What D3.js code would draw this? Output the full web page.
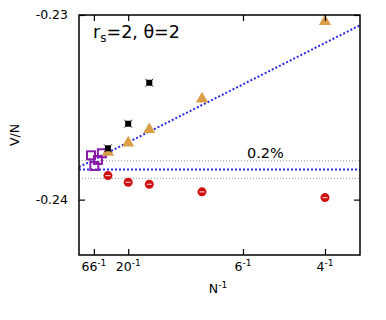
<!DOCTYPE html>
<html>
<head>
<meta charset="utf-8">
<script src="https://cdn.jsdelivr.net/npm/d3@7"></script>
<style>
  html, body { margin: 0; padding: 0; background: #fff; }
  svg { display: block; font-family: "DejaVu Sans", sans-serif; }
</style>
</head>
<body>
<svg id="chart" width="386" height="320"></svg>
<script>
// ---- data ----
const xTickN = [66, 20, 6, 4];
const yTicks = [-0.23, -0.24];

const redN = [34, 20, 14, 8, 4];
const redV = [-0.2387, -0.23906, -0.23917, -0.23958, -0.23989];

const blackN = [34, 20, 14];
const blackV = [-0.23722, -0.23589, -0.23367];

const orangeN = [34, 20, 14, 8, 4];
const orangeV = [-0.23749, -0.23698, -0.23626, -0.2346, -0.2304];

const purpleN = [82, 64, 52, 43];
const purpleV = [-0.2376, -0.23818, -0.23785, -0.23749];

const fitIntercept = -0.23824;
const fitSlope = 0.0269;
const extrapolated = -0.23837;
const band = 0.002;

// ---- layout ----
const svg = d3.select("#chart");
const m = { left: 79, right: 360, top: 15, bottom: 255 };
const x = d3.scaleLinear().domain([0, 0.2856]).range([m.left, m.right]);
const y = d3.scaleLinear().domain([-0.243, -0.23]).range([m.bottom, m.top]);

svg.append("clipPath").attr("id", "clip")
  .append("rect").attr("x", m.left).attr("y", m.top)
  .attr("width", m.right - m.left).attr("height", m.bottom - m.top);

const plot = svg.append("g").attr("clip-path", "url(#clip)");

// grey band lines
[extrapolated * (1 - band), extrapolated * (1 + band)].forEach(v => {
  plot.append("line")
    .attr("x1", m.left).attr("x2", m.right)
    .attr("y1", y(v)).attr("y2", y(v))
    .attr("stroke", "#999").attr("stroke-width", 1)
    .attr("stroke-dasharray", "1,2");
});
// horizontal blue line
plot.append("line")
  .attr("x1", m.left).attr("x2", m.right)
  .attr("y1", y(extrapolated)).attr("y2", y(extrapolated))
  .attr("stroke", "#2a2ae6").attr("stroke-width", 2)
  .attr("stroke-dasharray", "2,2");
// fit line
const xd = x.domain();
plot.append("line")
  .attr("x1", x(xd[0])).attr("x2", x(xd[1]))
  .attr("y1", y(fitIntercept + fitSlope * xd[0]))
  .attr("y2", y(fitIntercept + fitSlope * xd[1]))
  .attr("stroke", "#2a2ae6").attr("stroke-width", 2)
  .attr("stroke-dasharray", "2,2");

// purple open squares
purpleN.forEach((n, i) => {
  plot.append("rect")
    .attr("x", x(1 / n) - 4).attr("y", y(purpleV[i]) - 4)
    .attr("width", 8).attr("height", 8)
    .attr("fill", "none").attr("stroke", "#8a1aa8").attr("stroke-width", 2);
});

// orange triangles
const tri = d3.symbol().type(d3.symbolTriangle).size(65);
orangeN.forEach((n, i) => {
  plot.append("path").attr("d", tri)
    .attr("transform", `translate(${x(1 / n)},${y(orangeV[i]) - 1})`)
    .attr("fill", "#d9a048");
});

// black markers
blackN.forEach((n, i) => {
  const cx = x(1 / n), cy = y(blackV[i]);
  const g = plot.append("g").attr("transform", `translate(${cx},${cy})`);
  g.append("rect").attr("x", -3).attr("y", -3).attr("width", 6).attr("height", 6).attr("fill", "#000");
  g.append("path").attr("d", "M-4,-4L4,4M-4,4L4,-4").attr("stroke", "#000").attr("stroke-width", 0.8);
});

// red circles
redN.forEach((n, i) => {
  const cx = x(1 / n), cy = y(redV[i]);
  plot.append("circle").attr("cx", cx).attr("cy", cy).attr("r", 4.5).attr("fill", "#d01010");
  plot.append("line").attr("x1", cx - 2.5).attr("x2", cx + 2.5).attr("y1", cy).attr("y2", cy)
    .attr("stroke", "#f4c0c0").attr("stroke-width", 1.2);
});

// frame
svg.append("rect")
  .attr("x", m.left).attr("y", m.top)
  .attr("width", m.right - m.left).attr("height", m.bottom - m.top)
  .attr("fill", "none").attr("stroke", "#000").attr("stroke-width", 1.5);

// axes with inner ticks
const tl = 6;
const xAxisB = d3.axisBottom(x).tickValues(xTickN.map(n => 1 / n)).tickSizeInner(-tl).tickSizeOuter(0).tickFormat("");
const xAxisT = d3.axisTop(x).tickValues(xTickN.map(n => 1 / n)).tickSizeInner(-tl).tickSizeOuter(0).tickFormat("");
const yAxisL = d3.axisLeft(y).tickValues(yTicks).tickSizeInner(-tl).tickSizeOuter(0).tickFormat("");
const yAxisR = d3.axisRight(y).tickValues(yTicks).tickSizeInner(-tl).tickSizeOuter(0).tickFormat("");
[
  [xAxisB, `translate(0,${m.bottom})`],
  [xAxisT, `translate(0,${m.top})`],
  [yAxisL, `translate(${m.left},0)`],
  [yAxisR, `translate(${m.right},0)`]
].forEach(([ax, tr]) => {
  const g = svg.append("g").attr("transform", tr).call(ax);
  g.select(".domain").remove();
  g.selectAll("line").attr("stroke", "#000").attr("stroke-width", 1.2);
});

// y tick labels
yTicks.forEach(v => {
  svg.append("text").attr("x", 68).attr("y", y(v)).attr("dy", "0.35em")
    .attr("text-anchor", "end").attr("font-size", 12.5).attr("fill", "#000")
    .text(d3.format(".2f")(v).replace("−", "-"));
});

// x tick labels
xTickN.forEach(n => {
  const t = svg.append("text").attr("x", x(1 / n)).attr("y", 271)
    .attr("text-anchor", "middle").attr("font-size", 12.5).attr("fill", "#000");
  t.append("tspan").text(n);
  t.append("tspan").attr("dy", -5).attr("font-size", 9).text("-1");
});

// axis titles
const xl = svg.append("text").attr("x", 218).attr("y", 293)
  .attr("text-anchor", "middle").attr("font-size", 12.5).attr("fill", "#000");
xl.append("tspan").text("N");
xl.append("tspan").attr("dy", -5).attr("font-size", 9).text("-1");

svg.append("text").attr("transform", "translate(19,135) rotate(-90)")
  .attr("text-anchor", "middle").attr("font-size", 12.5).attr("fill", "#000").text("V/N");

// annotations
const ann = svg.append("text").attr("x", 93).attr("y", 38).attr("font-size", 17.5).attr("fill", "#000");
ann.append("tspan").text("r");
ann.append("tspan").attr("dy", 4).attr("font-size", 12).text("s");
ann.append("tspan").attr("dy", -4).text("=2, θ=2");

svg.append("text").attr("x", 247).attr("y", 158).attr("font-size", 14.5).attr("fill", "#000").text("0.2%");
</script>
</body>
</html>
